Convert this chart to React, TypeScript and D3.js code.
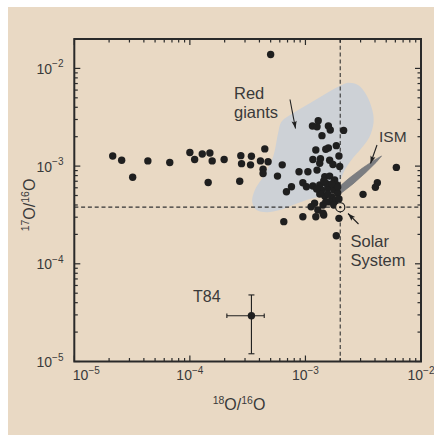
import React from 'react';
import * as d3 from 'd3';

// 18O/16O and 17O/16O ratios of presolar oxide grains
const o18 = [
  5.0e-4, 2.15e-5, 2.57e-5, 3.2e-5, 4.33e-5, 6.7e-5, 1.0e-4, 1.1e-4, 1.28e-4, 1.49e-4,
  1.56e-4, 1.44e-4, 1.98e-4, 2.76e-4, 2.8e-4, 2.7e-4, 3.41e-4, 3.35e-4, 4.45e-4, 4.08e-4,
  4.75e-4, 4.3e-4, 4.3e-4, 6.3e-4, 5.73e-4, 7.57e-4, 6.85e-4, 6.5e-4, 8.8e-4, 1.05e-3,
  1.26e-3, 1.29e-3, 1.15e-3, 1.26e-3, 1.58e-3, 1.64e-3, 2.14e-3, 1.39e-3, 1.85e-3, 1.23e-3,
  1.5e-3, 1.58e-3, 1.16e-3, 1.35e-3, 1.33e-3, 1.62e-3, 1.95e-3, 1.73e-3, 1.98e-3, 9.5e-4,
  1.02e-3, 1.16e-3, 1.33e-3, 1.47e-3, 1.62e-3, 1.79e-3, 1.38e-3, 1.56e-3, 1.76e-3, 1.87e-3,
  1.47e-3, 1.69e-3, 1.9e-3, 1.62e-3, 1.83e-3, 1.5e-3, 1.2e-3, 1.12e-3, 1.42e-3, 9.5e-4,
  1.23e-3, 1.44e-3, 1.28e-3, 1.95e-3, 1.85e-3, 3.15e-3, 4.19e-3, 4.03e-3, 6.12e-3, 1.42e-3,
  1.44e-3, 1.69e-3, 1.33e-3, 1.56e-3, 1.5e-3, 1.76e-3, 1.95e-3, 1.25e-3, 1.9e-3,
];
const o17 = [
  1.39e-2, 1.27e-3, 1.15e-3, 7.7e-4, 1.13e-3, 1.09e-3, 1.38e-3, 1.17e-3, 1.33e-3, 1.36e-3,
  1.13e-3, 6.8e-4, 1.17e-3, 1.28e-3, 1.06e-3, 7.0e-4, 1.26e-3, 1.03e-3, 1.5e-3, 1.13e-3,
  1.11e-3, 9.3e-4, 8.4e-4, 1.03e-3, 7.9e-4, 6.15e-4, 5.47e-4, 2.7e-4, 8.77e-4, 8.77e-4,
  9.1e-4, 2.92e-3, 2.57e-3, 2.53e-3, 2.57e-3, 2.34e-3, 2.32e-3, 2.05e-3, 1.62e-3, 1.46e-3,
  1.49e-3, 1.53e-3, 1.17e-3, 1.19e-3, 1.07e-3, 1.15e-3, 1.27e-3, 1.04e-3, 9.9e-4, 6.76e-4,
  6.15e-4, 6.25e-4, 6.4e-4, 7.8e-4, 7.9e-4, 7.2e-4, 5.7e-4, 5.97e-4, 5.7e-4, 6.4e-4,
  4.94e-4, 4.83e-4, 5.3e-4, 4.3e-4, 4.5e-4, 6.7e-4, 4.16e-4, 3.84e-4, 4.0e-4, 3.03e-4,
  3.03e-4, 3.16e-4, 3.56e-4, 2.92e-4, 1.94e-4, 5.14e-4, 6.76e-4, 6.07e-4, 9.7e-4, 3.29e-4,
  7.04e-4, 6.56e-4, 5.18e-4, 5.18e-4, 4.3e-4, 4.0e-4, 4.6e-4, 5.83e-4, 6.1e-4,
];

// Red giant region outline
const redGiantO18 = [
  6.2e-4, 7.8e-4, 1.09e-3, 1.52e-3, 1.98e-3, 2.33e-3, 2.85e-3, 3.37e-3, 3.79e-3, 3.89e-3,
  3.59e-3, 3.05e-3, 2.5e-3, 2.19e-3, 1.98e-3, 1.73e-3, 1.33e-3, 1.02e-3, 7.8e-4, 6.0e-4,
  4.6e-4, 3.77e-4, 3.46e-4, 3.65e-4, 4.3e-4, 5.25e-4, 5.8e-4,
];
const redGiantO17 = [
  2.85e-3, 3.47e-3, 4.39e-3, 5.56e-3, 6.6e-3, 7.14e-3, 6.76e-3, 5.34e-3, 3.75e-3, 2.85e-3,
  2.0e-3, 1.52e-3, 1.155e-3, 9.1e-4, 6.92e-4, 5.27e-4, 4.86e-4, 4.5e-4, 4.0e-4, 3.55e-4,
  3.37e-4, 3.55e-4, 4.32e-4, 5.69e-4, 7.79e-4, 1.25e-3, 2.17e-3,
];

// ISM band outline
const ismO18 = [1.83e-3, 2.37e-3, 3.1e-3, 3.93e-3, 4.56e-3, 4.08e-3, 3.33e-3, 2.58e-3, 1.98e-3, 1.85e-3];
const ismO17 = [5.73e-4, 7.47e-4, 9.52e-4, 1.15e-3, 1.27e-3, 1.087e-3, 8.58e-4, 6.57e-4, 5.14e-4, 5.27e-4];

// Solar System
const solarO18 = 2.0e-3;
const solarO17 = 3.8e-4;

// T84 with error bars
const t84O18 = 3.41e-4;
const t84O17 = 2.94e-5;
const t84O18Range = [2.09e-4, 4.4e-4];
const t84O17Range = [1.2e-5, 4.8e-5];

const xTickExps = [-5, -4, -3, -2];
const yTickExps = [-5, -4, -3, -2];

const FONT = '"Liberation Sans", Arial, Helvetica, sans-serif';
const BG = '#e9d9c4';
const INK = '#1f1f1f';
const TXT = '#3a3a3a';

export default function App() {
  const W = 434, H = 435;
  const L = 74.3, R = 421, T = 39, B = 361.5;
  const x = d3.scaleLog().domain([1e-5, 1e-2]).range([L, R]);
  const y = d3.scaleLog().domain([1e-5, 2e-2]).range([B, T]);

  const isMajor = (v: number) => Math.abs(Math.log10(v) - Math.round(Math.log10(v))) < 1e-6;
  const xt = x.ticks().filter(v => v >= 1e-5 && v <= 1e-2);
  const yt = y.ticks().filter(v => v >= 1e-5 && v <= 1.01e-2);
  const MJ = 6, MN = 3.5;

  const closed = d3.line<number>()
    .x((_, i) => x(redGiantO18[i]))
    .y((_, i) => y(redGiantO17[i]))
    .curve(d3.curveCatmullRomClosed.alpha(0.5));
  const rgPath = closed(redGiantO18.map((_, i) => i)) || '';

  const ismLine = d3.line<number>()
    .x((_, i) => x(ismO18[i]))
    .y((_, i) => y(ismO17[i]))
    .curve(d3.curveLinearClosed);
  const ismPath = ismLine(ismO18.map((_, i) => i)) || '';

  const sx = x(solarO18), sy = y(solarO17);
  const tx = x(t84O18), ty = y(t84O17);

  return (
    <svg width={W} height={H} style={{ position: 'absolute', left: 0, top: 0 }} fontFamily={FONT}>
      <defs>
        <marker id="ah" markerUnits="userSpaceOnUse" markerWidth="10" markerHeight="10"
          viewBox="-8 -4 10 8" refX="0" refY="0" orient="auto">
          <path d="M0,0 L-7.5,-2.6 L-6,0 L-7.5,2.6 Z" fill={INK} />
        </marker>
      </defs>
      <rect x={0} y={0} width={W} height={H} fill="#ffffff" />
      <rect x={8} y={7} width={W - 8} height={H - 7} fill={BG} />

      {/* red giant region */}
      <path d={rgPath} fill="#cdd1d6" stroke="none" />

      {/* solar dashed lines */}
      <line x1={L} x2={R} y1={sy} y2={sy} stroke="#333" strokeWidth={1.1} strokeDasharray="4,2.8" />
      <line x1={sx} x2={sx} y1={T} y2={B} stroke="#333" strokeWidth={1.1} strokeDasharray="4,2.8" />

      {/* ISM band */}
      <path d={ismPath} fill="#7b7d81" stroke="#6a6c70" strokeWidth={0.6} strokeLinejoin="round" />

      {/* grains */}
      {o18.map((v, i) => (
        <circle key={i} cx={x(v)} cy={y(o17[i])} r={3.7} fill={INK} />
      ))}

      {/* solar symbol */}
      <circle cx={sx} cy={sy} r={4.6} fill={BG} stroke={INK} strokeWidth={1.2} />
      <circle cx={sx} cy={sy} r={1.2} fill={INK} />

      {/* T84 */}
      <g stroke={INK} strokeWidth={1.1}>
        <line x1={x(t84O18Range[0])} x2={x(t84O18Range[1])} y1={ty} y2={ty} />
        <line x1={tx} x2={tx} y1={y(t84O17Range[0])} y2={y(t84O17Range[1])} />
        <line x1={x(t84O18Range[0])} x2={x(t84O18Range[0])} y1={ty - 2.2} y2={ty + 2.2} />
        <line x1={x(t84O18Range[1])} x2={x(t84O18Range[1])} y1={ty - 2.2} y2={ty + 2.2} />
        <line x1={tx - 3} x2={tx + 3} y1={y(t84O17Range[0])} y2={y(t84O17Range[0])} />
        <line x1={tx - 3} x2={tx + 3} y1={y(t84O17Range[1])} y2={y(t84O17Range[1])} />
      </g>
      <circle cx={tx} cy={ty} r={3.7} fill={INK} />

      {/* frame */}
      <rect x={L} y={T} width={R - L} height={B - T} fill="none" stroke="#2a2a2a" strokeWidth={2} />

      {/* ticks */}
      <g stroke="#2a2a2a" strokeWidth={1.2}>
        {xt.map((v, i) => {
          const len = isMajor(v) ? MJ : MN;
          return (
            <g key={'x' + i}>
              <line x1={x(v)} x2={x(v)} y1={B} y2={B - len} />
              <line x1={x(v)} x2={x(v)} y1={T} y2={T + len} />
            </g>
          );
        })}
        {yt.map((v, i) => {
          const len = isMajor(v) ? MJ : MN;
          return (
            <g key={'y' + i}>
              <line x1={L} x2={L + len} y1={y(v)} y2={y(v)} />
              <line x1={R} x2={R - len} y1={y(v)} y2={y(v)} />
            </g>
          );
        })}
      </g>

      {/* x tick labels */}
      {xTickExps.map((e, i) => (
        <text key={'xl' + i} x={x(Math.pow(10, e)) + (i === 0 ? 12 : 0)} y={380}
          textAnchor="middle" fontSize={14} fill={TXT}>
          10<tspan fontSize={10} dy={-6.5}>{'\u2212' + Math.abs(e)}</tspan>
        </text>
      ))}
      {/* y tick labels */}
      {yTickExps.map((e, i) => (
        <text key={'yl' + i} x={63.5} y={y(Math.pow(10, e)) + 5.5}
          textAnchor="end" fontSize={14} fill={TXT}>
          10<tspan fontSize={10} dy={-6.5}>{'\u2212' + Math.abs(e)}</tspan>
        </text>
      ))}

      {/* axis titles */}
      <text x={239} y={410} textAnchor="middle" fontSize={16} fill={TXT}>
        <tspan fontSize={10.5} dy={-6}>18</tspan>
        <tspan dy={6}>O/</tspan>
        <tspan fontSize={10.5} dy={-6}>16</tspan>
        <tspan dy={6}>O</tspan>
      </text>
      <text transform="translate(35,205) rotate(-90)" textAnchor="middle" fontSize={16} fill={TXT}>
        <tspan fontSize={10.5} dy={-6}>17</tspan>
        <tspan dy={6}>O/</tspan>
        <tspan fontSize={10.5} dy={-6}>16</tspan>
        <tspan dy={6}>O</tspan>
      </text>

      {/* annotations */}
      <text x={234} y={99} fontSize={16.5} fill={TXT}>
        <tspan x={234} y={99}>Red</tspan>
        <tspan x={234} y={117.5}>giants</tspan>
      </text>
      <line x1={290} y1={99.5} x2={295.5} y2={128.5} stroke={INK} strokeWidth={1.1} markerEnd="url(#ah)" />

      <text x={379} y={141.5} fontSize={15.5} fill={TXT}>ISM</text>
      <line x1={377} y1={145} x2={370.5} y2={163.5} stroke={INK} strokeWidth={1.1} markerEnd="url(#ah)" />

      <text x={350.5} y={247} fontSize={16.5} fill={TXT}>
        <tspan x={350.5} y={247}>Solar</tspan>
        <tspan x={350.5} y={265.5}>System</tspan>
      </text>
      <line x1={358.5} y1={224} x2={348} y2={213.5} stroke={INK} strokeWidth={1.1} markerEnd="url(#ah)" />

      <text x={193} y={302} fontSize={16} fill={TXT}>T84</text>
    </svg>
  );
}
